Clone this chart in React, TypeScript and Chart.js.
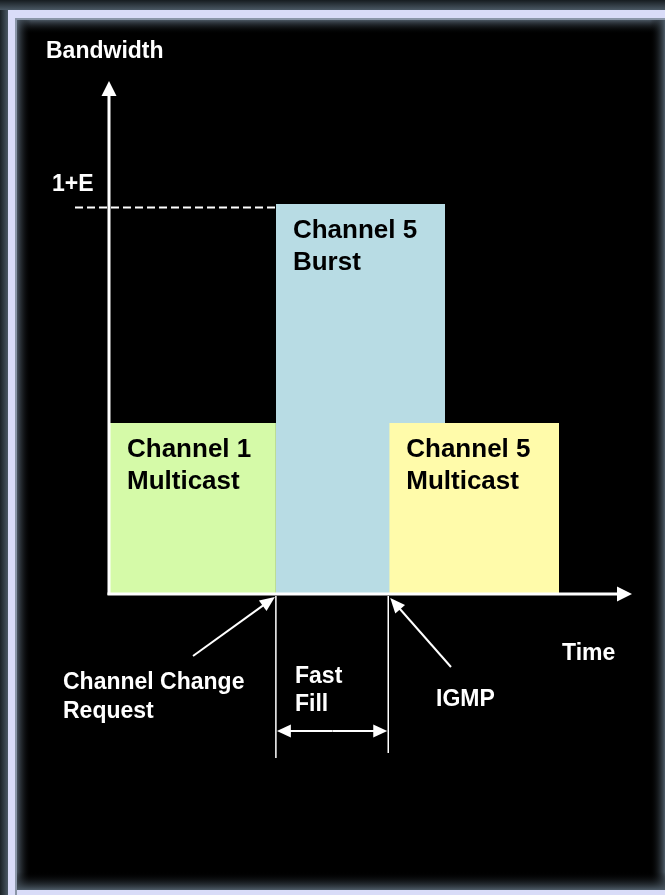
import React, { useEffect, useRef } from "react";
import { Chart, registerables } from "chart.js";

Chart.register(...registerables);

// ---- data ----
const segmentNames = ["Channel 1 Multicast", "Channel 5 Burst", "Channel 5 Multicast"];
const segmentLines = [["Channel 1", "Multicast"], ["Channel 5", "Burst"], ["Channel 5", "Multicast"]];
const segmentStart = [0, 3.0, 5.05];
const segmentEnd = [3.0, 6.06, 8.12];
const segmentBandwidth = [1.0, 2.28, 1.0];
const segmentColors = ["#d5faa8", "#b8dce4", "#fffbaa"];
const burstLevel = 2.26; // "1+E"
const channelChangeTime = 3.0;
const igmpTime = 5.05;
const timeMax = 9.44;
const bandwidthMax = 3.0;

const FONT = "'Liberation Sans', Arial, sans-serif";

function drawArrowHead(ctx: CanvasRenderingContext2D, x1: number, y1: number, x2: number, y2: number, len: number, half: number) {
  const a = Math.atan2(y2 - y1, x2 - x1);
  ctx.beginPath();
  ctx.moveTo(x2, y2);
  ctx.lineTo(x2 - len * Math.cos(a) + half * Math.sin(a), y2 - len * Math.sin(a) - half * Math.cos(a));
  ctx.lineTo(x2 - len * Math.cos(a) - half * Math.sin(a), y2 - len * Math.sin(a) + half * Math.cos(a));
  ctx.closePath();
  ctx.fill();
}

function drawArrow(ctx: CanvasRenderingContext2D, x1: number, y1: number, x2: number, y2: number, len: number, half: number, lw: number) {
  const a = Math.atan2(y2 - y1, x2 - x1);
  ctx.lineWidth = lw;
  ctx.beginPath();
  ctx.moveTo(x1, y1);
  ctx.lineTo(x2 - (len - 1) * Math.cos(a), y2 - (len - 1) * Math.sin(a));
  ctx.stroke();
  drawArrowHead(ctx, x1, y1, x2, y2, len, half);
}

const framePlugin = {
  id: "frame",
  beforeDraw(chart: any) {
    const ctx = chart.ctx as CanvasRenderingContext2D;
    const W = chart.width, H = chart.height;
    ctx.save();
    ctx.fillStyle = "#000";
    ctx.fillRect(0, 0, W, H);
    // inner glows
    let g = ctx.createLinearGradient(0, 18, 0, 34);
    g.addColorStop(0, "rgba(95,110,125,1)");
    g.addColorStop(1, "rgba(0,0,0,0)");
    ctx.fillStyle = g;
    ctx.fillRect(15, 18, W - 15, 16);
    g = ctx.createLinearGradient(15, 0, 31, 0);
    g.addColorStop(0, "rgba(95,110,125,1)");
    g.addColorStop(1, "rgba(0,0,0,0)");
    ctx.fillStyle = g;
    ctx.fillRect(15, 18, 16, H - 18);
    g = ctx.createLinearGradient(650, 0, W, 0);
    g.addColorStop(0, "rgba(0,0,0,0)");
    g.addColorStop(1, "rgba(78,92,104,1)");
    ctx.fillStyle = g;
    ctx.fillRect(650, 18, W - 650, H - 18);
    g = ctx.createLinearGradient(0, 872, 0, 890);
    g.addColorStop(0, "rgba(0,0,0,0)");
    g.addColorStop(1, "rgba(78,92,104,1)");
    ctx.fillStyle = g;
    ctx.fillRect(15, 872, W - 15, 18);
    // outer dark edges
    g = ctx.createLinearGradient(0, 0, 0, 10);
    g.addColorStop(0, "#161c20");
    g.addColorStop(1, "#4a5864");
    ctx.fillStyle = g;
    ctx.fillRect(0, 0, W, 10);
    g = ctx.createLinearGradient(0, 0, 8, 0);
    g.addColorStop(0, "#1a2226");
    g.addColorStop(1, "#4a5864");
    ctx.fillStyle = g;
    ctx.fillRect(0, 10, 8, H - 10);
    // lavender bands
    ctx.fillStyle = "#d9dcf8";
    ctx.fillRect(8, 10, W - 8, 8);
    ctx.fillRect(8, 10, 7, H - 10);
    ctx.fillRect(8, 890, W - 8, 5);
    ctx.fillStyle = "#8a96a8";
    ctx.fillRect(15, 18, W - 15, 2);
    ctx.fillRect(15, 18, 2, H - 18);
    ctx.restore();
  },
  afterDatasetsDraw(chart: any) {
    const ctx = chart.ctx as CanvasRenderingContext2D;
    const xs = chart.scales.x, ys = chart.scales.y;
    const x0 = xs.getPixelForValue(0);
    const y0 = ys.getPixelForValue(0);
    const xEnd = xs.getPixelForValue(timeMax);
    const yTop = ys.getPixelForValue(bandwidthMax);
    ctx.save();
    ctx.strokeStyle = "#fff";
    ctx.fillStyle = "#fff";
    // dashed 1+E line
    const yB = ys.getPixelForValue(burstLevel);
    ctx.setLineDash([8, 4]);
    ctx.lineWidth = 2;
    ctx.beginPath();
    ctx.moveTo(75, yB);
    ctx.lineTo(xs.getPixelForValue(channelChangeTime), yB);
    ctx.stroke();
    ctx.setLineDash([]);
    // axes
    drawArrow(ctx, x0 - 1, y0 + 1, x0 - 1, yTop, 15, 7.5, 3);
    drawArrow(ctx, x0 - 2.5, y0, xEnd, y0, 15, 7.5, 3);
    // event lines
    const xc = xs.getPixelForValue(channelChangeTime);
    const xi = xs.getPixelForValue(igmpTime);
    ctx.lineWidth = 1.5;
    ctx.beginPath();
    ctx.moveTo(xc, y0 + 2);
    ctx.lineTo(xc, 758);
    ctx.moveTo(xi - 1, y0 + 2);
    ctx.lineTo(xi - 1, 753);
    ctx.stroke();
    // fast fill double arrow
    drawArrow(ctx, (xc + xi) / 2, 731, xc + 1, 731, 14, 6.5, 2);
    drawArrow(ctx, (xc + xi) / 2, 731, xi - 2, 731, 14, 6.5, 2);
    // pointer arrows
    drawArrow(ctx, 193, 656, xc - 1, y0 + 3, 15, 6.5, 2);
    drawArrow(ctx, 451, 667, xi + 1, y0 + 4, 15, 6.5, 2);
    // white texts
    ctx.textBaseline = "middle";
    ctx.textAlign = "left";
    ctx.font = `bold 23px ${FONT}`;
    ctx.fillText("Bandwidth", 46, 52);
    ctx.fillText("1+E", 52, 185);
    ctx.fillText("Time", 562, 654);
    ctx.fillText("Channel Change", 63, 683);
    ctx.fillText("Request", 63, 712);
    ctx.fillText("Fast", 295, 677);
    ctx.fillText("Fill", 295, 705);
    ctx.fillText("IGMP", 436, 700);
    // bar labels
    ctx.fillStyle = "#000";
    ctx.font = `bold 26px ${FONT}`;
    segmentLines.forEach((lines, i) => {
      const lx = xs.getPixelForValue(segmentStart[i]) + 17;
      const ly = ys.getPixelForValue(segmentBandwidth[i]) + 27;
      lines.forEach((t, k) => ctx.fillText(t, lx, ly + k * 32));
    });
    ctx.restore();
  },
};

export default function App() {
  const ref = useRef<HTMLCanvasElement>(null);
  useEffect(() => {
    document.body.style.margin = "0";
    const order = [3, 2, 1];
    const chart = new Chart(ref.current!, {
      type: "line",
      data: {
        datasets: segmentNames.map((name, i) => ({
          label: name,
          data: [
            { x: segmentStart[i], y: 0 },
            { x: segmentStart[i], y: segmentBandwidth[i] },
            { x: segmentEnd[i], y: segmentBandwidth[i] },
            { x: segmentEnd[i], y: 0 },
          ],
          fill: "origin",
          backgroundColor: segmentColors[i],
          borderWidth: 0,
          borderColor: "rgba(0,0,0,0)",
          pointRadius: 0,
          tension: 0,
          order: order[i],
        })),
      },
      options: {
        animation: false,
        responsive: false,
        devicePixelRatio: 1,
        layout: { padding: { left: 110, right: 665 - 632, top: 81, bottom: 895 - 594 } },
        plugins: { legend: { display: false }, tooltip: { enabled: false } },
        scales: {
          x: { type: "linear", min: 0, max: timeMax, display: false },
          y: { type: "linear", min: 0, max: bandwidthMax, display: false },
        },
      },
      plugins: [framePlugin],
    });
    return () => chart.destroy();
  }, []);
  return (
    <div style={{ position: "absolute", left: 0, top: 0, width: 665, height: 895 }}>
      <canvas ref={ref} width={665} height={895} style={{ display: "block" }} />
    </div>
  );
}
